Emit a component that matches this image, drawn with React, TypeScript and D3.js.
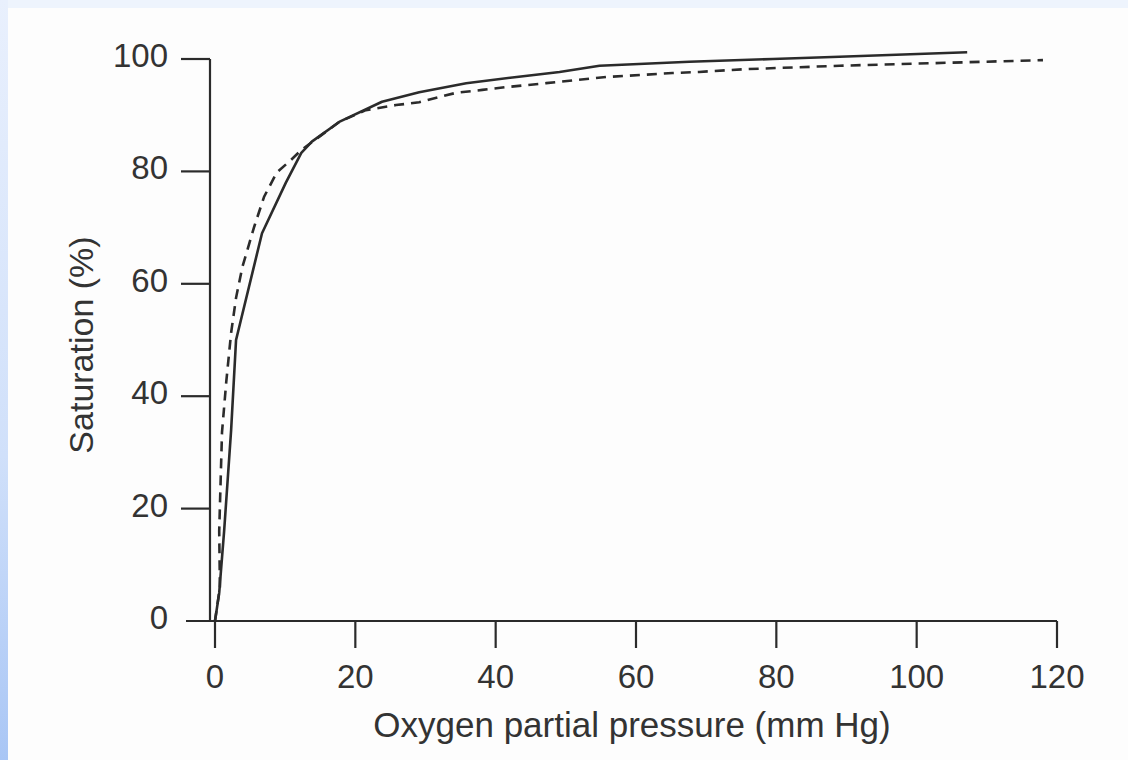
import React from 'react'
import * as d3 from 'd3'

// oxygen dissociation curves
const solidCurve: [number, number][] = [
  [0, 0], [0.6, 5], [1.3, 16], [2.3, 34], [3.0, 50], [6.7, 69], [10.1, 78],
  [12.3, 83.3], [13.8, 85.3], [17.7, 88.8], [23.8, 92.4], [29.1, 94.1],
  [35.8, 95.7], [43, 96.8], [49.1, 97.7], [54.8, 98.8], [67.6, 99.5],
  [79.5, 100], [89, 100.4], [107.2, 101.2]
]

const dashedCurve: [number, number][] = [
  [0, 0], [0.7, 6], [0.6, 16], [1.0, 33.6], [1.6, 42.5], [2.3, 51.3],
  [3.0, 57.5], [3.9, 63], [5.6, 70.2], [7, 75.5], [8.8, 79.8], [10.8, 82],
  [12.3, 83.8], [17.7, 88.8], [21.5, 90.9], [25.8, 91.8], [29.1, 92.3],
  [34.4, 94], [38.1, 94.5], [41.5, 95], [47.2, 95.7], [55.8, 96.8],
  [65.2, 97.5], [69, 97.7], [75.8, 98.2], [89, 98.8], [118, 99.8]
]

const xTicks = [0, 20, 40, 60, 80, 100, 120]
const yTicks = [0, 20, 40, 60, 80, 100]

const W = 1128
const H = 760
const ink = '#2b2b2b'
const font = '"Liberation Sans", Arial, Helvetica, sans-serif'

export default function App() {
  const x = d3.scaleLinear().domain([0, 120]).range([215, 1057])
  const y = d3.scaleLinear().domain([0, 100]).range([621, 59])
  const axisX = 210

  const line = d3.line<[number, number]>()
    .x(d => x(d[0]))
    .y(d => y(d[1]))

  return (
    <>
      <style>{'body{margin:0}'}</style>
      <svg width={W} height={H} style={{ display: 'block' }}>
        <defs>
          <linearGradient id="leftBand" x1="0" y1="0" x2="0" y2="1">
            <stop offset="0%" stopColor="#e9f0fd" />
            <stop offset="60%" stopColor="#d0e0fa" />
            <stop offset="100%" stopColor="#a9c6f5" />
          </linearGradient>
        </defs>
        <rect x={0} y={0} width={W} height={H} fill="#fdfdfd" />
        <rect x={0} y={0} width={W} height={8} fill="#eef4fd" />
        <rect x={0} y={0} width={8} height={H} fill="url(#leftBand)" />

        {/* axes */}
        <g stroke={ink} strokeWidth={2.2} fill="none">
          <line x1={axisX} y1={y(100)} x2={axisX} y2={y(0)} />
          <line x1={186} y1={y(0)} x2={x(120)} y2={y(0)} />
          {yTicks.filter(t => t > 0).map(t => (
            <line key={t} x1={181} y1={y(t)} x2={axisX} y2={y(t)} />
          ))}
          {xTicks.map(t => (
            <line key={t} x1={x(t)} y1={y(0)} x2={x(t)} y2={y(0) + 27} />
          ))}
        </g>

        <g fontFamily={font} fontSize={33} fill="#333">
          {yTicks.map(t => (
            <text key={t} x={168} y={y(t) + 8} textAnchor="end">{t}</text>
          ))}
          {xTicks.map(t => (
            <text key={t} x={x(t)} y={688} textAnchor="middle">{t}</text>
          ))}
        </g>

        <text x={632} y={737} textAnchor="middle" fontFamily={font} fontSize={35} fill="#333">
          Oxygen partial pressure (mm Hg)
        </text>
        <text
          transform={`translate(93,345) rotate(-90)`}
          textAnchor="middle"
          fontFamily={font}
          fontSize={34}
          fill="#333"
        >
          Saturation (%)
        </text>

        {/* curves */}
        <path d={line(solidCurve) || ''} fill="none" stroke={ink} strokeWidth={2.6} strokeLinejoin="round" />
        <path d={line(dashedCurve) || ''} fill="none" stroke={ink} strokeWidth={2.6} strokeDasharray="10,7" />
      </svg>
    </>
  )
}
